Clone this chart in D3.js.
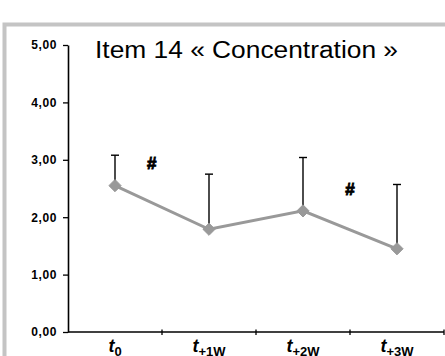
<!DOCTYPE html>
<html>
<head>
<meta charset="utf-8">
<script src="https://cdn.jsdelivr.net/npm/d3@7/dist/d3.min.js"></script>
<style>
  html, body { margin: 0; padding: 0; background: #fff; }
  svg { display: block; }
</style>
</head>
<body>
<svg id="chart" width="445" height="356"></svg>
<script>
const categories = ["t0", "t+1W", "t+2W", "t+3W"];
const catBase = ["t", "t", "t", "t"];
const catSub = ["0", "+1W", "+2W", "+3W"];
const means = [2.55, 1.79, 2.11, 1.45];
const upperErr = [0.53, 0.96, 0.93, 1.12];
const yTicks = [0, 1, 2, 3, 4, 5];
const annotations = [
  { cat: "t0", offset: 0.39, y: 2.95, text: "#" },
  { cat: "t+2W", offset: 0.5, y: 2.49, text: "#" }
];
const title = "Item 14 « Concentration »";

const svg = d3.select("#chart");

// outer frame
svg.append("rect")
  .attr("x", 4.5).attr("y", 24.5)
  .attr("width", 460).attr("height", 360)
  .attr("fill", "#fff")
  .attr("stroke", "#c4c4c4")
  .attr("stroke-width", 4);

const x = d3.scaleBand().domain(categories).range([68, 444]).padding(0);
const y = d3.scaleLinear().domain([0, 5]).range([332, 45]);
const fmt = v => d3.format(".2f")(v).replace(".", ",");

// y axis
const yAxis = d3.axisLeft(y).tickValues(yTicks).tickSize(5).tickSizeOuter(0).tickFormat(fmt);
const gy = svg.append("g").attr("transform", `translate(${x.range()[0]},0)`).call(yAxis);
gy.select(".domain").attr("stroke", "#000").attr("stroke-width", 1.6);
gy.selectAll(".tick line").attr("stroke", "#000").attr("stroke-width", 1.3);
gy.selectAll(".tick text")
  .attr("x", -11)
  .attr("font-family", "Arial, 'Liberation Sans', sans-serif")
  .attr("font-size", 12)
  .attr("font-weight", "bold")
  .attr("letter-spacing", "0.6px")
  .attr("fill", "#000");

// x axis line
const gx = svg.append("g");
gx.append("line")
  .attr("x1", x.range()[0]).attr("x2", x.range()[1])
  .attr("y1", y(0)).attr("y2", y(0))
  .attr("stroke", "#000").attr("stroke-width", 1.6);
const edges = categories.map(c => x(c)).concat([x(categories[categories.length - 1]) + x.bandwidth()]);
gx.selectAll("line.tk").data(edges.slice(1)).enter().append("line")
  .attr("class", "tk")
  .attr("x1", d => d).attr("x2", d => d)
  .attr("y1", y(0) - 2.5).attr("y2", y(0) + 3)
  .attr("stroke", "#000").attr("stroke-width", 1.3);

// x labels
const lbl = gx.selectAll("text.xl").data(categories).enter().append("text")
  .attr("class", "xl")
  .attr("x", d => x(d) + x.bandwidth() / 2)
  .attr("y", 352)
  .attr("text-anchor", "middle")
  .attr("font-family", "Arial, 'Liberation Sans', sans-serif")
  .attr("font-weight", "bold")
  .attr("fill", "#000");
lbl.append("tspan")
  .attr("font-style", "italic")
  .attr("font-size", 18)
  .text((d, i) => catBase[i]);
lbl.append("tspan")
  .attr("font-size", 13)
  .attr("dy", 4)
  .text((d, i) => catSub[i]);

const cx = d => x(d) + x.bandwidth() / 2;

// error bars (upper only)
const eb = svg.append("g");
categories.forEach((c, i) => {
  const top = y(means[i] + upperErr[i]);
  eb.append("line")
    .attr("x1", cx(c)).attr("x2", cx(c))
    .attr("y1", y(means[i])).attr("y2", top)
    .attr("stroke", "#000").attr("stroke-width", 1.4);
  eb.append("line")
    .attr("x1", cx(c) - 4).attr("x2", cx(c) + 4)
    .attr("y1", top).attr("y2", top)
    .attr("stroke", "#000").attr("stroke-width", 1.4);
});

// line
const line = d3.line().x((d, i) => cx(categories[i])).y(d => y(d));
svg.append("path")
  .datum(means)
  .attr("d", line)
  .attr("fill", "none")
  .attr("stroke", "#999")
  .attr("stroke-width", 3);

// diamonds
svg.selectAll("path.pt").data(means).enter().append("path")
  .attr("class", "pt")
  .attr("d", d3.symbol().type(d3.symbolDiamond2).size(95))
  .attr("transform", (d, i) => `translate(${cx(categories[i])},${y(d)})`)
  .attr("fill", "#999")
  .attr("stroke", "#999")
  .attr("stroke-width", 1);

// annotations
svg.selectAll("text.ann").data(annotations).enter().append("text")
  .attr("class", "ann")
  .attr("x", d => cx(d.cat) + x.bandwidth() * d.offset)
  .attr("y", d => y(d.y) + 6)
  .attr("text-anchor", "middle")
  .attr("font-family", "Arial, 'Liberation Sans', sans-serif")
  .attr("font-weight", "bold")
  .attr("font-size", 17)
  .attr("fill", "#000")
  .attr("stroke", "#000")
  .attr("stroke-width", 0.9)
  .text(d => d.text);

// title
svg.append("text")
  .attr("x", 95).attr("y", 58)
  .attr("font-family", "Arial, 'Liberation Sans', sans-serif")
  .attr("font-size", 23.5)
  .attr("textLength", 303)
  .attr("lengthAdjust", "spacingAndGlyphs")
  .attr("fill", "#000")
  .text(title);
</script>
</body>
</html>
